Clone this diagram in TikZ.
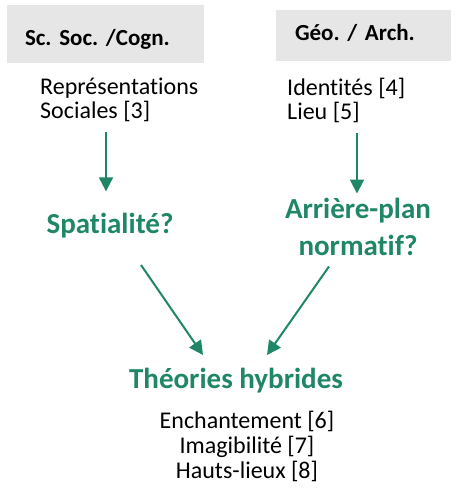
\documentclass[tikz,border=0pt]{standalone}
\usepackage{fontspec}
\setmainfont{Carlito}[RawFeature={-liga}]
\usetikzlibrary{arrows.meta}
\definecolor{schoolgreen}{RGB}{31,134,103}
\definecolor{headgray}{RGB}{230,230,230}
\frenchspacing

\begin{document}
\begin{tikzpicture}[
    x=1pt, y=-1pt,
    header/.style={rectangle, fill=headgray, inner ysep=0pt, align=left,
        font=\fontsize{23}{28}\selectfont\bfseries},
    refs/.style={inner sep=0pt, align=left,
        font=\fontsize{24}{23.5}\selectfont},
    concept/.style={inner sep=0pt, align=center, text=schoolgreen,
        font=\fontsize{29}{37}\selectfont\bfseries},
    arr/.style={draw=schoolgreen, line width=2pt,
        -{Triangle[width=14pt,length=14pt]}}
]
    \useasboundingbox (0,0) rectangle (460,490);
    % disciplines
    \node[header, inner xsep=18pt, text width=161pt, text height=30pt, text depth=8pt,
        minimum height=58pt] (soc) at (105.5,34) {Sc. Soc. /Cogn.};
    \node[header, inner xsep=19pt, text width=137pt, text height=22pt, text depth=13pt,
        minimum height=51pt] (geo) at (363.5,35.5) {Géo. / Arch.};
    \node[refs, anchor=north west] (rep) at (40,78) {Représentations\\Sociales [3]};
    \node[refs, anchor=north west] (ident) at (287,78) {Identités [4]\\Lieu [5]};
    % questions
    \node[concept] (spat) at (110,226) {Spatialité?};
    \node[concept] (norm) at (358,226.5) {Arrière-plan\\normatif?};
    \node[concept] (theo) at (236,381) {Théories hybrides};
    \node[inner sep=0pt, align=center, font=\fontsize{24}{25}\selectfont] (hyb) at (247,446)
        {Enchantement [6]\\Imagibilité [7]\\Hauts-lieux [8]};
    \draw[arr, shorten <=10pt, shorten >=22pt] ([xshift=-4pt]spat.north |- rep.south) -- ([xshift=-4pt]spat.north);
    \draw[arr, shorten <=10pt, shorten >=4pt] ([xshift=-1pt]norm.north |- ident.south) -- ([xshift=-1pt]norm.north);
    \draw[arr] ([shift={(31,39)}]spat.center) -- ([shift={(-33,-26)}]theo.center);
    \draw[arr] ([shift={(-29,40)}]norm.center) -- ([shift={(31,-26)}]theo.center);
\end{tikzpicture}
\end{document}
